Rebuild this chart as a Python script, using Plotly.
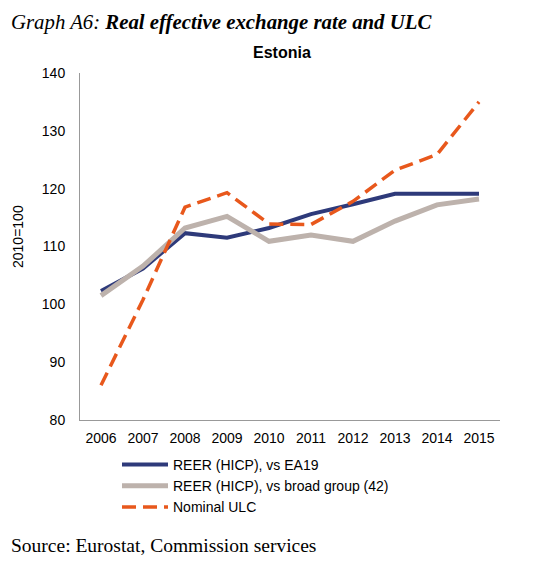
import plotly.graph_objects as go

years = ["2006", "2007", "2008", "2009", "2010", "2011", "2012", "2013", "2014", "2015"]
reer_ea19 = [102.3, 106.2, 112.3, 111.5, 113.2, 115.6, 117.3, 119.1, 119.1, 119.1]
reer_broad = [101.5, 106.6, 113.2, 115.2, 110.9, 112.0, 110.9, 114.4, 117.2, 118.2]
nominal_ulc = [86.0, 100.8, 116.8, 119.3, 113.9, 113.8, 117.8, 123.2, 125.9, 135.0]

names = ["REER (HICP), vs EA19", "REER (HICP), vs broad group (42)", "Nominal ULC"]

fig = go.Figure()
fig.add_trace(go.Scatter(x=years, y=reer_ea19, mode="lines", name=names[0],
                         line=dict(color="#2E3A7A", width=4)))
fig.add_trace(go.Scatter(x=years, y=reer_broad, mode="lines", name=names[1],
                         line=dict(color="#BDB2AC", width=5)))
fig.add_trace(go.Scatter(x=years, y=nominal_ulc, mode="lines", name=names[2],
                         line=dict(color="#E8581C", width=3.5, dash="14px,7px")))

# the page body adds an 8px margin, so the figure is drawn 8px smaller
# and all positions below are given in window pixels minus that offset
OFF = 8
W, H = 538 - OFF, 562 - OFF
L, T = 80 - OFF, 73 - OFF
R, B = W - (500 - OFF), H - (420 - OFF)
plot_w, plot_h = W - L - R, H - T - B


def px(x):
    return (x - OFF - L) / plot_w


def py(y):
    return (H - B - (y - OFF)) / plot_h


fig.update_layout(
    width=W, height=H,
    margin=dict(l=L, r=R, t=T, b=B, autoexpand=False),
    plot_bgcolor="white", paper_bgcolor="white",
    font=dict(family="Liberation Sans, Arial", size=14, color="black"),
    showlegend=True,
    legend=dict(x=px(117), y=py(449), xanchor="left", yanchor="top",
                bgcolor="rgba(0,0,0,0)", font=dict(size=14),
                tracegroupgap=0, itemwidth=46),
)
fig.update_xaxes(type="category", range=[-0.5, 9.5], showline=True, linecolor="#999999",
                 linewidth=1, ticks="", showgrid=False, zeroline=False,
                 automargin=False, ticklabelstandoff=5)
fig.update_yaxes(range=[80, 140], dtick=10, showline=True, linecolor="#999999",
                 linewidth=1, ticks="", showgrid=False, zeroline=False,
                 automargin=False, ticklabelstandoff=11)

# chart title
fig.add_annotation(text="<b>Estonia</b>", x=px(282), y=py(52), xref="paper", yref="paper",
                   xanchor="center", yanchor="middle", showarrow=False, font=dict(size=16))
# y axis title
fig.add_annotation(text="2010=100", x=px(18), y=py(237), xref="paper", yref="paper",
                   xanchor="center", yanchor="middle", textangle=-90, showarrow=False,
                   font=dict(size=14))
# caption and source (kept inside the figure's own box so they are not clipped)
fig.add_annotation(text="<i>Graph A6: </i><b><i>Real effective exchange rate and ULC</i></b>",
                   x=px(9), y=py(22), xref="paper", yref="paper", showarrow=False,
                   xanchor="left", yanchor="middle",
                   font=dict(family="Liberation Serif", size=20.8))
fig.add_annotation(text="Source: Eurostat, Commission services",
                   x=px(9), y=py(545), xref="paper", yref="paper", showarrow=False,
                   xanchor="left", yanchor="middle",
                   font=dict(family="Liberation Serif", size=19.5))

fig.write_html("out.html")
